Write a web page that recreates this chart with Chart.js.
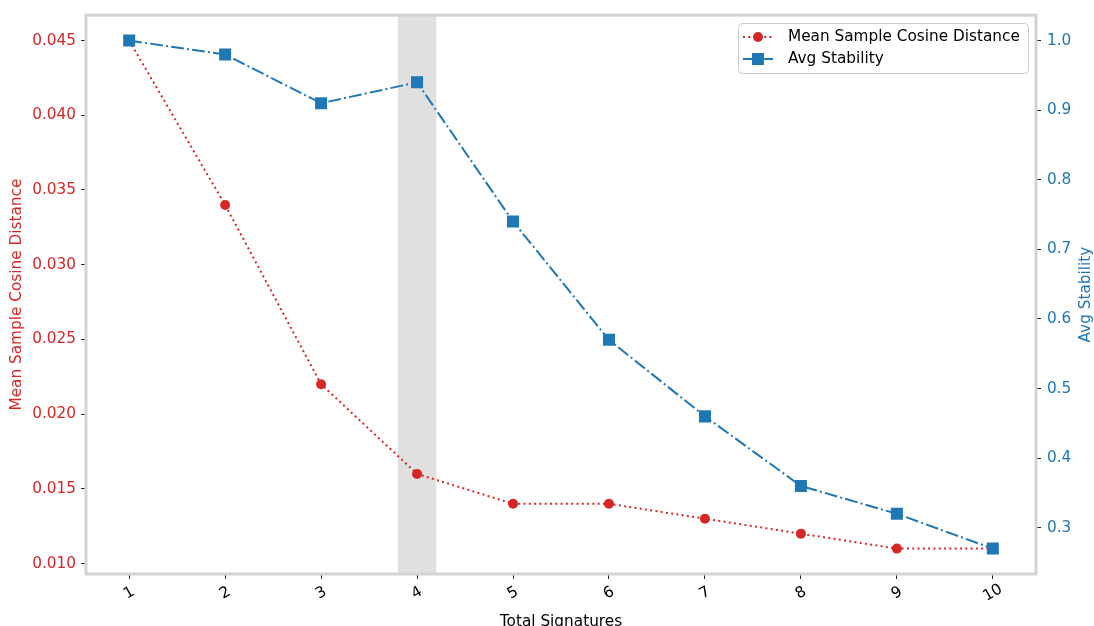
<!DOCTYPE html>
<html>
<head>
<meta charset="utf-8">
<script src="https://cdn.jsdelivr.net/npm/chart.js@4.4.0/dist/chart.umd.min.js"></script>
<style>
  body { margin: 0; background: #fff; }
  #wrap { width: 1094px; height: 626px; }
</style>
</head>
<body>
<div id="wrap"><canvas id="chart" width="1094" height="626"></canvas></div>
<script>
const categories = [1, 2, 3, 4, 5, 6, 7, 8, 9, 10];
const cosineDistance = [0.045, 0.034, 0.022, 0.016, 0.014, 0.014, 0.013, 0.012, 0.011, 0.011];
const avgStability = [1.0, 0.98, 0.91, 0.94, 0.74, 0.57, 0.46, 0.36, 0.32, 0.27];
const leftTicks = [0.010, 0.015, 0.020, 0.025, 0.030, 0.035, 0.040, 0.045];
const rightTicks = [0.3, 0.4, 0.5, 0.6, 0.7, 0.8, 0.9, 1.0];
const highlightK = 4;

const RED = "#d62728";
const BLUE = "#1f77b4";
const FONT = "DejaVu Sans";
const FS = 15.3;

Chart.defaults.font.family = FONT;
Chart.defaults.font.size = FS;

const redDash = [2, 3.3];
const blueDash = [12.8, 3.2, 2, 3.2];

function drawSample(ctx, x, y, color, dash, style, r) {
    ctx.save();
    ctx.strokeStyle = color;
    ctx.lineWidth = 2;
    ctx.setLineDash(dash);
    ctx.beginPath();
    ctx.moveTo(x - 15, y);
    ctx.lineTo(x + 15, y);
    ctx.stroke();
    ctx.setLineDash([]);
    ctx.fillStyle = color;
    if (style === "circle") {
        ctx.beginPath();
        ctx.arc(x, y, r, 0, Math.PI * 2);
        ctx.fill();
    } else {
        ctx.fillRect(x - r, y - r, r * 2, r * 2);
    }
    ctx.restore();
}

const decorations = {
    id: "decorations",
    beforeDatasetsDraw(chart) {
        const { ctx, chartArea, scales } = chart;
        const x0 = scales.x.getPixelForValue(highlightK - 0.2);
        const x1 = scales.x.getPixelForValue(highlightK + 0.2);
        ctx.save();
        ctx.fillStyle = "#e0e0e0";
        ctx.fillRect(x0, chartArea.top, x1 - x0, chartArea.bottom - chartArea.top);
        ctx.restore();
    },
    afterDraw(chart) {
        const { ctx, chartArea, scales } = chart;
        const midY = (chartArea.top + chartArea.bottom) / 2;
        ctx.save();

        // frame
        ctx.strokeStyle = "#d3d3d3";
        ctx.lineWidth = 3;
        ctx.strokeRect(chartArea.left, chartArea.top, chartArea.right - chartArea.left, chartArea.bottom - chartArea.top);

        // x tick labels, rotated 30deg
        ctx.fillStyle = "#000";
        ctx.font = FS + "px '" + FONT + "'";
        ctx.textAlign = "center";
        ctx.textBaseline = "middle";
        categories.forEach((c) => {
            const x = scales.x.getPixelForValue(c);
            ctx.save();
            ctx.translate(x, chartArea.bottom + 19);
            ctx.rotate(-Math.PI / 6);
            ctx.fillText(String(c), 0, 0);
            ctx.restore();
        });

        // axis titles
        ctx.fillText("Total Signatures", (chartArea.left + chartArea.right) / 2, 622);

        ctx.save();
        ctx.translate(17, midY);
        ctx.rotate(-Math.PI / 2);
        ctx.fillStyle = RED;
        ctx.fillText("Mean Sample Cosine Distance", 0, 0);
        ctx.restore();

        ctx.save();
        ctx.translate(1086, midY);
        ctx.rotate(-Math.PI / 2);
        ctx.fillStyle = BLUE;
        ctx.fillText("Avg Stability", 0, 0);
        ctx.restore();

        // legend
        ctx.beginPath();
        ctx.roundRect(738.5, 23.5, 290, 50, 4);
        ctx.fillStyle = "rgba(255,255,255,0.8)";
        ctx.fill();
        ctx.strokeStyle = "#cccccc";
        ctx.lineWidth = 1;
        ctx.stroke();

        drawSample(ctx, 758, 37, RED, redDash, "circle", 5);
        drawSample(ctx, 758, 59, BLUE, blueDash, "rect", 6);
        ctx.fillStyle = "#000";
        ctx.textAlign = "left";
        ctx.fillText("Mean Sample Cosine Distance", 788, 37);
        ctx.fillText("Avg Stability", 788, 59);

        ctx.restore();
    }
};

const ctx = document.getElementById("chart").getContext("2d");

new Chart(ctx, {
    type: "line",
    data: {
        datasets: [
            {
                label: "Mean Sample Cosine Distance",
                data: categories.map((c, i) => ({ x: c, y: cosineDistance[i] })),
                yAxisID: "y",
                borderColor: RED,
                backgroundColor: RED,
                borderWidth: 2,
                borderDash: redDash,
                pointStyle: "circle",
                pointRadius: 5,
                pointBorderWidth: 0,
                order: 1
            },
            {
                label: "Avg Stability",
                data: categories.map((c, i) => ({ x: c, y: avgStability[i] })),
                yAxisID: "y1",
                borderColor: BLUE,
                backgroundColor: BLUE,
                borderWidth: 2,
                borderDash: blueDash,
                pointStyle: "rect",
                pointRadius: 8.5,
                pointBorderWidth: 0,
                order: 0
            }
        ]
    },
    options: {
        responsive: false,
        animation: false,
        layout: { padding: { top: 15, left: 0, right: 0, bottom: 0 } },
        plugins: { legend: { display: false }, tooltip: { enabled: false } },
        scales: {
            x: {
                type: "linear",
                min: 0.55,
                max: 10.45,
                afterBuildTicks: (s) => { s.ticks = categories.map((v) => ({ value: v })); },
                afterFit: (s) => { s.height = 52; },
                grid: { drawOnChartArea: false, drawTicks: true, tickLength: 5, color: "#222" },
                border: { display: false },
                ticks: { display: false }
            },
            y: {
                position: "left",
                min: 0.0093,
                max: 0.0467,
                afterBuildTicks: (s) => { s.ticks = leftTicks.map((v) => ({ value: v })); },
                afterFit: (s) => { s.width = 86; },
                grid: { drawOnChartArea: false, drawTicks: true, tickLength: 5, color: "#222" },
                border: { display: false },
                ticks: { color: RED, padding: 5, callback: (v) => v.toFixed(3) }
            },
            y1: {
                position: "right",
                min: 0.2335,
                max: 1.0365,
                afterBuildTicks: (s) => { s.ticks = rightTicks.map((v) => ({ value: v })); },
                afterFit: (s) => { s.width = 58; },
                grid: { drawOnChartArea: false, drawTicks: true, tickLength: 5, color: "#222" },
                border: { display: false },
                ticks: { color: BLUE, padding: 6, callback: (v) => v.toFixed(1) }
            }
        }
    },
    plugins: [decorations]
});
</script>
</body>
</html>
